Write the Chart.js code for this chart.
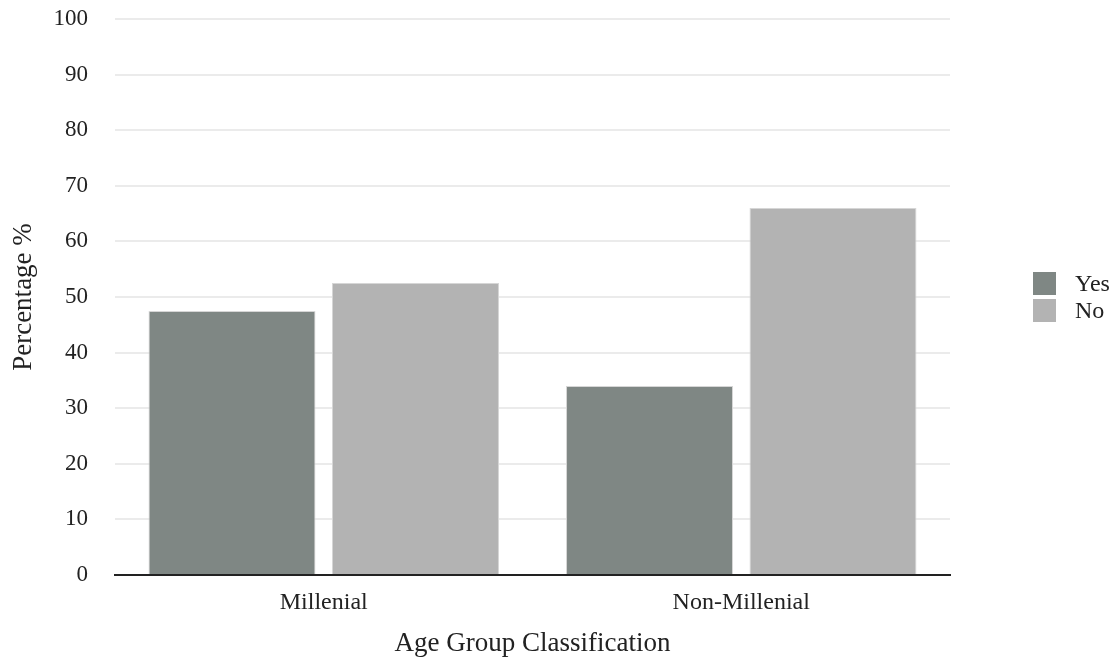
<!DOCTYPE html>
<html>
<head>
<meta charset="utf-8">
<script src="https://cdn.jsdelivr.net/npm/chart.js@4.4.1/dist/chart.umd.min.js"></script>
<style>
  html, body { margin: 0; padding: 0; background: #fff; }
  #wrap { position: relative; width: 1117px; height: 660px; }
  #legend { position: absolute; left: 1033px; top: 270px; font-family: "Liberation Serif", serif; font-size: 24px; color: #222; }
  .item { display: flex; align-items: center; height: 27px; }
  .swatch { width: 23px; height: 23px; margin-right: 19px; }
</style>
</head>
<body>
<div id="wrap">
  <canvas id="chart" width="1117" height="660"></canvas>
  <div id="legend"></div>
</div>
<script>
// age groups and answer shares (%)
const categories = ['Millenial', 'Non-Millenial'];
const seriesNames = ['Yes', 'No'];
const yesValues = [47.5, 34];
const noValues  = [52.5, 66];
const colors = ['#7f8784', '#b3b3b3'];

const FONT = '"Liberation Serif", "Times New Roman", serif';

const chart = new Chart(document.getElementById('chart'), {
  type: 'bar',
  data: {
    labels: categories,
    datasets: [
      { label: seriesNames[0], data: yesValues, backgroundColor: colors[0], borderColor: '#d6d6d6', borderWidth: 1 },
      { label: seriesNames[1], data: noValues,  backgroundColor: colors[1], borderColor: '#d6d6d6', borderWidth: 1 }
    ]
  },
  options: {
    responsive: false,
    animation: false,
    categoryPercentage: 0.879,
    barPercentage: 0.91,
    layout: { padding: { top: 0, right: 167, left: 8, bottom: 0 } },
    plugins: { legend: { display: false }, tooltip: { enabled: false } },
    scales: {
      x: {
        grid: { display: false, drawTicks: false },
        border: { display: true, color: '#222', width: 2 },
        ticks: { color: '#222', font: { family: FONT, size: 24 }, padding: 13 },
        title: { display: true, text: 'Age Group Classification', color: '#222', font: { family: FONT, size: 27 }, padding: { top: 8, bottom: 0 } },
        afterFit: s => { s.height = 85; }
      },
      y: {
        min: 0, max: 100,
        ticks: { stepSize: 10, color: '#222', font: { family: FONT, size: 23 }, padding: 27 },
        grid: { color: '#ebebeb', lineWidth: 2, drawTicks: false },
        border: { display: false },
        title: { display: true, text: 'Percentage %', color: '#222', font: { family: FONT, size: 27 }, padding: { top: 0, bottom: 6 } },
        // fixed axis width and top gap instead of the tick-padding based ones
        afterFit: s => { s.width = 107; s.paddingTop = 19; s.paddingBottom = 14; }
      }
    }
  }
});

// side legend built from the datasets
document.getElementById('legend').innerHTML = chart.data.datasets.map((ds, i) =>
  `<div class="item"><div class="swatch" style="background:${colors[i]}"></div>${ds.label}</div>`
).join('');
</script>
</body>
</html>
